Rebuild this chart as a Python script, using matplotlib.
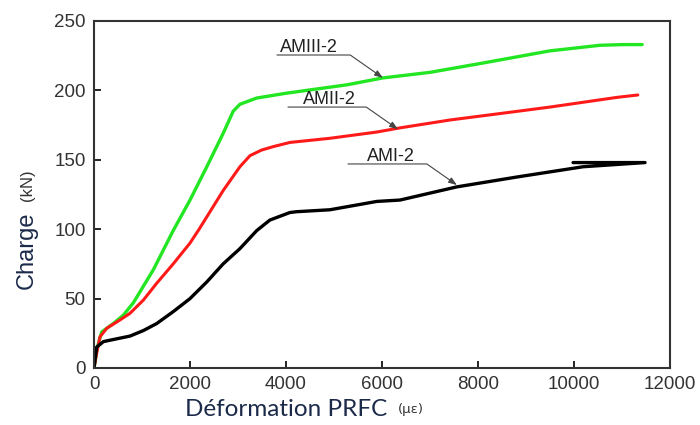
import matplotlib
matplotlib.use("Agg")
import matplotlib.pyplot as plt

# ── Donnees ──────────────────────────────────────────────────────────
# AMIII-2 (vert)
x_amiii = [0, 70, 160, 400, 610, 820, 1030, 1240, 1445, 1650, 2000, 2350,
           2690, 2900, 3040, 3390, 4010, 4220, 5265, 6020, 7000, 8100,
           9500, 10540, 11000, 11420]
y_amiii = [0, 15, 26, 32, 38, 47, 59, 71, 85, 99, 121, 145,
           169, 185, 190, 194.5, 198, 199, 204, 209, 213, 219.7,
           228.5, 232.5, 233, 233]

# AMII-2 (rouge)
x_amii = [0, 55, 125, 265, 540, 750, 1030, 1305, 1650, 2000, 2190, 2694,
          3040, 3250, 3490, 3735, 4080, 4915, 5890, 6375, 7420, 8500,
          9500, 10900, 11330]
y_amii = [0, 10.6, 22.5, 28.6, 34.6, 39.4, 49, 61, 75, 90, 100, 128,
          145, 153, 157, 159.5, 162.5, 165.5, 170, 173, 178.7, 183.5,
          188, 195, 196.7]

# AMI-2 (noir) - la courbe revient en arriere a la fin
x_ami = [0, 55, 195, 470, 750, 1030, 1305, 1650, 2000, 2350, 2690, 3040,
         3390, 3665, 4080, 4220, 4915, 5890, 6375, 7560, 8810, 10190,
         11480, 9980]
y_ami = [0, 15, 19, 21, 23, 27, 32, 40.6, 50, 62, 75, 86,
         99, 106.6, 112, 112.6, 114, 120, 121, 130.5, 137.6, 145,
         148, 148]

# Etiquettes: texte, position du texte, debut du trait, pointe de fleche
labels = ["AMIII-2", "AMII-2", "AMI-2"]
text_xy = [(3875, 231), (4354, 193.5), (5687, 152.5)]
line_start = [(3812, 225.5), (4041, 188), (5291, 147)]
arrow_tip = [(6020, 209), (6333, 172), (7562, 131.8)]

x_ticks = [0, 2000, 4000, 6000, 8000, 10000, 12000]
y_ticks = [0, 50, 100, 150, 200, 250]

fig = plt.figure(figsize=(7, 4.25), dpi=100)
ax = fig.add_axes([94 / 700, 1 - 368 / 425, 576 / 700, 347 / 425])

ax.plot(x_amiii, y_amiii, color="#22e622", linewidth=2.4, solid_capstyle="round")
ax.plot(x_amii, y_amii, color="#ff1a1a", linewidth=2.2, solid_capstyle="round")
ax.plot(x_ami, y_ami, color="black", linewidth=2.4, solid_capstyle="round")

ax.set_xlim(0, 12000)
ax.set_ylim(0, 250)
ax.set_xticks(x_ticks)
ax.set_yticks(y_ticks)
ax.tick_params(direction="in", length=5, width=1.2, labelsize=13.5,
               labelcolor="#333333", top=False, right=False, pad=6)
for lab in ax.get_xticklabels() + ax.get_yticklabels():
    lab.set_family("Liberation Sans")
for sp in ax.spines.values():
    sp.set_linewidth(1.5)
    sp.set_color("#333333")

for lab, txy, ls, tip in zip(labels, text_xy, line_start, arrow_tip):
    ax.text(txy[0], txy[1], lab, fontsize=13, family="Liberation Sans",
            color="#222222", ha="left", va="center")
    ax.annotate("", xy=tip, xytext=ls, textcoords="data",
                arrowprops=dict(arrowstyle="-|>,head_length=0.5,head_width=0.18",
                                color="#444444", lw=0.8, shrinkA=0, shrinkB=0,
                                connectionstyle="angle,angleA=0,angleB=145,rad=0"))

# titres des axes
fig.text(185 / 700, 1 - 410 / 425, "Déformation PRFC", fontsize=17.5,
         family="Lato", color="#1c2a4a", ha="left", va="center")
fig.text(398 / 700, 1 - 410 / 425, "(με)", fontsize=9.5,
         family="DejaVu Sans", color="#333333", ha="left", va="center")
fig.text(27 / 700, 1 - 250 / 425, "Charge", fontsize=17, rotation=90,
         family="Liberation Sans", color="#1c2a4a", ha="center", va="center")
fig.text(27 / 700, 1 - 185 / 425, "(kN)", fontsize=12, rotation=90,
         family="Liberation Sans", color="#333333", ha="center", va="center")

fig.savefig("out.png", dpi=100)
